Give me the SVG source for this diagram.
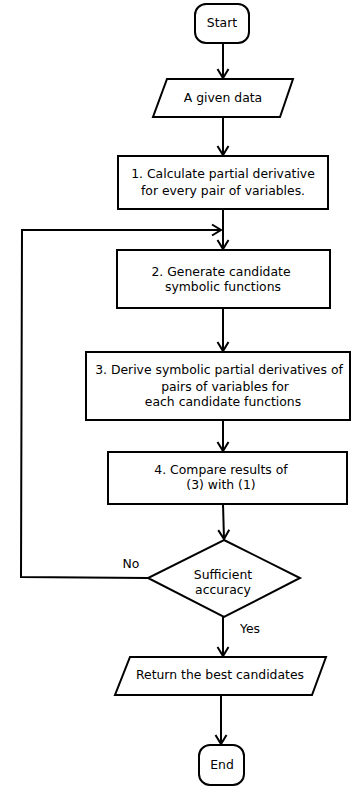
<svg xmlns="http://www.w3.org/2000/svg" width="351" height="787" viewBox="0 0 351 787">
<style>
.s{fill:#fff;stroke:#000;stroke-width:2}
.t{font-family:"DejaVu Sans",sans-serif;font-size:12.4px;fill:#000;text-anchor:middle}
.c{fill:none;stroke:#000;stroke-width:2}
</style>
<defs>
<marker id="arr" viewBox="-11 -7 13 14" refX="0" refY="0" markerWidth="13" markerHeight="14" markerUnits="userSpaceOnUse" orient="auto">
<path d="M-9,-5.5 L0,0 L-9,5.5" fill="none" stroke="#000" stroke-width="2"/>
</marker>
</defs>
<rect width="351" height="787" fill="#fff"/>
<g id="connectors">
<line class="c" x1="223" y1="43" x2="223" y2="78" marker-end="url(#arr)"/>
<line class="c" x1="223" y1="117" x2="223" y2="155" marker-end="url(#arr)"/>
<line class="c" x1="223" y1="209" x2="223" y2="249" marker-end="url(#arr)"/>
<polyline class="c" points="148,578 21,577 22,230 221,230" marker-end="url(#arr)"/>
<line class="c" x1="223" y1="308" x2="223" y2="351" marker-end="url(#arr)"/>
<line class="c" x1="223" y1="420" x2="223" y2="451" marker-end="url(#arr)"/>
<line class="c" x1="223" y1="504" x2="224" y2="539" marker-end="url(#arr)"/>
<line class="c" x1="223" y1="617" x2="223" y2="656" marker-end="url(#arr)"/>
<line class="c" x1="221" y1="695" x2="221" y2="744" marker-end="url(#arr)"/>
<text class="t" x="131" y="568">No</text>
<text class="t" x="250" y="633">Yes</text>
</g>
<g id="start">
<rect class="s" x="195" y="4" width="54" height="39" rx="11"/>
<text class="t" x="222" y="27">Start</text>
</g>
<g id="data">
<polygon class="s" points="167,79 293,79 280,117 153,117"/>
<text class="t" x="223" y="102">A given data</text>
</g>
<g id="step1">
<rect class="s" x="118" y="156" width="210" height="53"/>
<text class="t" x="223" y="178">1. Calculate partial derivative</text>
<text class="t" x="223" y="195">for every pair of variables.</text>
</g>
<g id="step2">
<rect class="s" x="117" y="250" width="213" height="58"/>
<text class="t" x="221" y="276">2. Generate candidate</text>
<text class="t" x="223" y="291">symbolic functions</text>
</g>
<g id="step3">
<rect class="s" x="86" y="352" width="264" height="68"/>
<text class="t" x="219" y="374">3. Derive symbolic partial derivatives of</text>
<text class="t" x="225" y="391">pairs of variables for</text>
<text class="t" x="223" y="406">each candidate functions</text>
</g>
<g id="step4">
<rect class="s" x="108" y="452" width="239" height="52"/>
<text class="t" x="221" y="474">4. Compare results of</text>
<text class="t" x="221" y="489">(3) with (1)</text>
</g>
<g id="decision">
<polygon class="s" points="224,540 300,578 224,617 148,578"/>
<text class="t" x="223" y="579">Sufficient</text>
<text class="t" x="223" y="594">accuracy</text>
</g>
<g id="result">
<polygon class="s" points="130,657 326,657 312,695 115,695"/>
<text class="t" x="220" y="679">Return the best candidates</text>
</g>
<g id="end">
<rect class="s" x="199" y="745" width="45" height="40" rx="11"/>
<text class="t" x="222" y="769">End</text>
</g>
</svg>
